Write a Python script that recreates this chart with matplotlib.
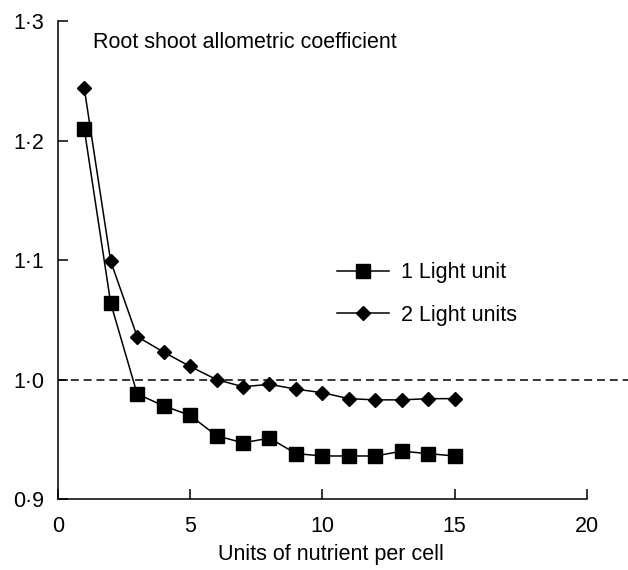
import matplotlib
matplotlib.use("Agg")
import matplotlib.pyplot as plt
from matplotlib.ticker import FuncFormatter

plt.rcParams['font.family'] = ['Liberation Sans', 'DejaVu Sans']

x = [1, 2, 3, 4, 5, 6, 7, 8, 9, 10, 11, 12, 13, 14, 15]
light1 = [1.210, 1.064, 0.988, 0.978, 0.970, 0.953, 0.947, 0.951, 0.938, 0.936,
          0.936, 0.936, 0.940, 0.938, 0.936]
light2 = [1.244, 1.099, 1.036, 1.023, 1.011, 1.000, 0.994, 0.996, 0.992, 0.989,
          0.984, 0.983, 0.983, 0.984, 0.984]
xticks = [0, 5, 10, 15, 20]
yticks = [0.9, 1.0, 1.1, 1.2, 1.3]

FS = 15.5

fig = plt.figure(figsize=(6.28, 5.70), dpi=100)
ax = fig.add_axes([0.092, 0.1246, 0.908, 0.838])

ax.axhline(1.0, color='black', lw=1.1, ls=(0, (5.2, 3.2)), zorder=4)
ax.plot(x, light1, color='black', lw=1.1, marker='s', markersize=9.5,
        label='1 Light unit', zorder=3)
ax.plot(x, light2, color='black', lw=1.1, marker='D', markersize=7.4,
        label='2 Light units', zorder=3)

ax.set_xlim(0, 21.55)
ax.set_ylim(0.9, 1.3)
ax.spines['top'].set_visible(False)
ax.spines['right'].set_visible(False)
ax.spines['bottom'].set_bounds(0, 20)
for s in ['left', 'bottom']:
    ax.spines[s].set_linewidth(1.1)

ax.set_xticks(xticks)
ax.set_yticks(yticks)
ax.yaxis.set_major_formatter(FuncFormatter(lambda v, p: f"{v:.1f}".replace('.', '\u00b7')))
ax.tick_params(axis='x', direction='in', length=7.5, width=1.1, labelsize=FS, pad=12)
ax.tick_params(axis='y', direction='in', length=7.5, width=1.1, labelsize=FS, pad=10)

ax.set_xlabel('Units of nutrient per cell', fontsize=FS, labelpad=7)
ax.xaxis.set_label_coords(0.479, -0.095)
ax.text(0.062, 0.955, 'Root shoot allometric coefficient', transform=ax.transAxes,
        fontsize=FS, va='center', ha='left')

ax.legend(loc='upper left', bbox_to_anchor=(0.489, 0.496), frameon=False,
          fontsize=FS, handlelength=2.45, labelspacing=1.0, handletextpad=0.55,
          borderpad=0, borderaxespad=0)

fig.savefig('out.png', dpi=100)
